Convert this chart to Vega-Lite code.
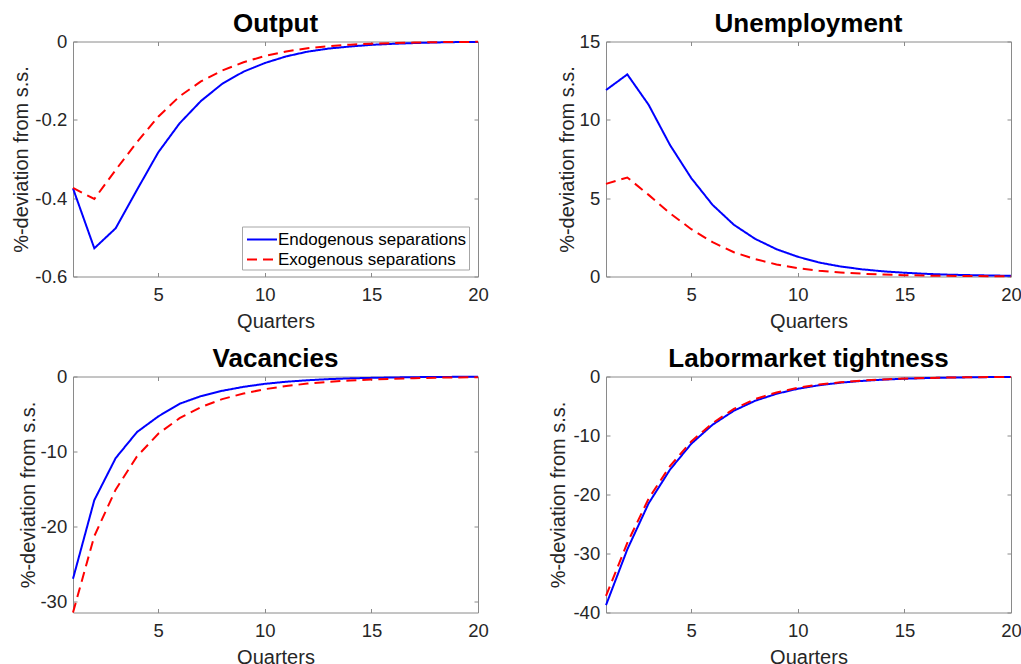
{
  "$schema": "https://vega.github.io/schema/vega-lite/v6.json",
  "background": "white",
  "padding": {"left": 11, "top": 9.5, "right": 0, "bottom": 0},
  "datasets": {
    "output": [
      {"q":1,"s":"Endogenous separations","v":-0.375},{"q":2,"s":"Endogenous separations","v":-0.528},{"q":3,"s":"Endogenous separations","v":-0.477},{"q":4,"s":"Endogenous separations","v":-0.379},{"q":5,"s":"Endogenous separations","v":-0.283},{"q":6,"s":"Endogenous separations","v":-0.209},{"q":7,"s":"Endogenous separations","v":-0.152},{"q":8,"s":"Endogenous separations","v":-0.108},{"q":9,"s":"Endogenous separations","v":-0.077},{"q":10,"s":"Endogenous separations","v":-0.055},{"q":11,"s":"Endogenous separations","v":-0.038},{"q":12,"s":"Endogenous separations","v":-0.026},{"q":13,"s":"Endogenous separations","v":-0.018},{"q":14,"s":"Endogenous separations","v":-0.0128},{"q":15,"s":"Endogenous separations","v":-0.0085},{"q":16,"s":"Endogenous separations","v":-0.006},{"q":17,"s":"Endogenous separations","v":-0.004},{"q":18,"s":"Endogenous separations","v":-0.0025},{"q":19,"s":"Endogenous separations","v":-0.0015},{"q":20,"s":"Endogenous separations","v":-0.001},
      {"q":1,"s":"Exogenous separations","v":-0.374},{"q":2,"s":"Exogenous separations","v":-0.402},{"q":3,"s":"Exogenous separations","v":-0.328},{"q":4,"s":"Exogenous separations","v":-0.257},{"q":5,"s":"Exogenous separations","v":-0.192},{"q":6,"s":"Exogenous separations","v":-0.14},{"q":7,"s":"Exogenous separations","v":-0.102},{"q":8,"s":"Exogenous separations","v":-0.074},{"q":9,"s":"Exogenous separations","v":-0.053},{"q":10,"s":"Exogenous separations","v":-0.037},{"q":11,"s":"Exogenous separations","v":-0.0255},{"q":12,"s":"Exogenous separations","v":-0.017},{"q":13,"s":"Exogenous separations","v":-0.012},{"q":14,"s":"Exogenous separations","v":-0.008},{"q":15,"s":"Exogenous separations","v":-0.0055},{"q":16,"s":"Exogenous separations","v":-0.004},{"q":17,"s":"Exogenous separations","v":-0.0027},{"q":18,"s":"Exogenous separations","v":-0.0018},{"q":19,"s":"Exogenous separations","v":-0.0012},{"q":20,"s":"Exogenous separations","v":-0.0008}
    ],
    "unemp": [
      {"q":1,"s":"Endogenous separations","v":11.9},{"q":2,"s":"Endogenous separations","v":12.9},{"q":3,"s":"Endogenous separations","v":10.96},{"q":4,"s":"Endogenous separations","v":8.4},{"q":5,"s":"Endogenous separations","v":6.28},{"q":6,"s":"Endogenous separations","v":4.57},{"q":7,"s":"Endogenous separations","v":3.3},{"q":8,"s":"Endogenous separations","v":2.4},{"q":9,"s":"Endogenous separations","v":1.74},{"q":10,"s":"Endogenous separations","v":1.26},{"q":11,"s":"Endogenous separations","v":0.89},{"q":12,"s":"Endogenous separations","v":0.64},{"q":13,"s":"Endogenous separations","v":0.46},{"q":14,"s":"Endogenous separations","v":0.33},{"q":15,"s":"Endogenous separations","v":0.24},{"q":16,"s":"Endogenous separations","v":0.17},{"q":17,"s":"Endogenous separations","v":0.12},{"q":18,"s":"Endogenous separations","v":0.09},{"q":19,"s":"Endogenous separations","v":0.065},{"q":20,"s":"Endogenous separations","v":0.047},
      {"q":1,"s":"Exogenous separations","v":5.91},{"q":2,"s":"Exogenous separations","v":6.32},{"q":3,"s":"Exogenous separations","v":5.21},{"q":4,"s":"Exogenous separations","v":4.04},{"q":5,"s":"Exogenous separations","v":3.02},{"q":6,"s":"Exogenous separations","v":2.19},{"q":7,"s":"Exogenous separations","v":1.55},{"q":8,"s":"Exogenous separations","v":1.11},{"q":9,"s":"Exogenous separations","v":0.77},{"q":10,"s":"Exogenous separations","v":0.53},{"q":11,"s":"Exogenous separations","v":0.37},{"q":12,"s":"Exogenous separations","v":0.26},{"q":13,"s":"Exogenous separations","v":0.18},{"q":14,"s":"Exogenous separations","v":0.12},{"q":15,"s":"Exogenous separations","v":0.085},{"q":16,"s":"Exogenous separations","v":0.06},{"q":17,"s":"Exogenous separations","v":0.04},{"q":18,"s":"Exogenous separations","v":0.03},{"q":19,"s":"Exogenous separations","v":0.02},{"q":20,"s":"Exogenous separations","v":0.014}
    ],
    "vac": [
      {"q":1,"s":"Endogenous separations","v":-27.0},{"q":2,"s":"Endogenous separations","v":-16.5},{"q":3,"s":"Endogenous separations","v":-10.9},{"q":4,"s":"Endogenous separations","v":-7.42},{"q":5,"s":"Endogenous separations","v":-5.33},{"q":6,"s":"Endogenous separations","v":-3.64},{"q":7,"s":"Endogenous separations","v":-2.62},{"q":8,"s":"Endogenous separations","v":-1.91},{"q":9,"s":"Endogenous separations","v":-1.38},{"q":10,"s":"Endogenous separations","v":-0.98},{"q":11,"s":"Endogenous separations","v":-0.7},{"q":12,"s":"Endogenous separations","v":-0.5},{"q":13,"s":"Endogenous separations","v":-0.35},{"q":14,"s":"Endogenous separations","v":-0.25},{"q":15,"s":"Endogenous separations","v":-0.18},{"q":16,"s":"Endogenous separations","v":-0.13},{"q":17,"s":"Endogenous separations","v":-0.09},{"q":18,"s":"Endogenous separations","v":-0.065},{"q":19,"s":"Endogenous separations","v":-0.046},{"q":20,"s":"Endogenous separations","v":-0.033},
      {"q":1,"s":"Exogenous separations","v":-31.5},{"q":2,"s":"Exogenous separations","v":-21.3},{"q":3,"s":"Exogenous separations","v":-15.1},{"q":4,"s":"Exogenous separations","v":-10.67},{"q":5,"s":"Exogenous separations","v":-7.64},{"q":6,"s":"Exogenous separations","v":-5.56},{"q":7,"s":"Exogenous separations","v":-4.09},{"q":8,"s":"Exogenous separations","v":-3.02},{"q":9,"s":"Exogenous separations","v":-2.27},{"q":10,"s":"Exogenous separations","v":-1.69},{"q":11,"s":"Exogenous separations","v":-1.27},{"q":12,"s":"Exogenous separations","v":-0.95},{"q":13,"s":"Exogenous separations","v":-0.71},{"q":14,"s":"Exogenous separations","v":-0.53},{"q":15,"s":"Exogenous separations","v":-0.4},{"q":16,"s":"Exogenous separations","v":-0.3},{"q":17,"s":"Exogenous separations","v":-0.22},{"q":18,"s":"Exogenous separations","v":-0.16},{"q":19,"s":"Exogenous separations","v":-0.12},{"q":20,"s":"Exogenous separations","v":-0.09}
    ],
    "tight": [
      {"q":1,"s":"Endogenous separations","v":-38.76},{"q":2,"s":"Endogenous separations","v":-29.3},{"q":3,"s":"Endogenous separations","v":-21.5},{"q":4,"s":"Endogenous separations","v":-15.8},{"q":5,"s":"Endogenous separations","v":-11.4},{"q":6,"s":"Endogenous separations","v":-8.17},{"q":7,"s":"Endogenous separations","v":-5.8},{"q":8,"s":"Endogenous separations","v":-4.11},{"q":9,"s":"Endogenous separations","v":-2.93},{"q":10,"s":"Endogenous separations","v":-2.08},{"q":11,"s":"Endogenous separations","v":-1.48},{"q":12,"s":"Endogenous separations","v":-1.05},{"q":13,"s":"Endogenous separations","v":-0.75},{"q":14,"s":"Endogenous separations","v":-0.53},{"q":15,"s":"Endogenous separations","v":-0.38},{"q":16,"s":"Endogenous separations","v":-0.27},{"q":17,"s":"Endogenous separations","v":-0.19},{"q":18,"s":"Endogenous separations","v":-0.14},{"q":19,"s":"Endogenous separations","v":-0.1},{"q":20,"s":"Endogenous separations","v":-0.07},
      {"q":1,"s":"Exogenous separations","v":-37.2},{"q":2,"s":"Exogenous separations","v":-28.2},{"q":3,"s":"Exogenous separations","v":-20.7},{"q":4,"s":"Exogenous separations","v":-15.2},{"q":5,"s":"Exogenous separations","v":-11.0},{"q":6,"s":"Exogenous separations","v":-7.9},{"q":7,"s":"Exogenous separations","v":-5.5},{"q":8,"s":"Exogenous separations","v":-3.83},{"q":9,"s":"Exogenous separations","v":-2.7},{"q":10,"s":"Exogenous separations","v":-1.92},{"q":11,"s":"Exogenous separations","v":-1.36},{"q":12,"s":"Exogenous separations","v":-0.97},{"q":13,"s":"Exogenous separations","v":-0.69},{"q":14,"s":"Exogenous separations","v":-0.49},{"q":15,"s":"Exogenous separations","v":-0.35},{"q":16,"s":"Exogenous separations","v":-0.25},{"q":17,"s":"Exogenous separations","v":-0.18},{"q":18,"s":"Exogenous separations","v":-0.13},{"q":19,"s":"Exogenous separations","v":-0.09},{"q":20,"s":"Exogenous separations","v":-0.065}
    ]
  },
  "columns": 2,
  "bounds": "flush",
  "spacing": {"row": 100, "column": 128},
  "resolve": {"scale": {"color": "independent", "strokeDash": "independent"}, "legend": {"color": "independent", "strokeDash": "independent"}},
  "concat": [
    {
      "data": {"name": "output"},
      "width": 405, "height": 235,
      "title": {"text": "Output"},
      "layer": [
        {
          "mark": {"type": "line", "strokeWidth": 2},
          "encoding": {
            "x": {"field": "q", "type": "quantitative", "scale": {"domain": [1, 20], "nice": false, "zero": false}, "axis": {"title": "Quarters", "values": [5, 10, 15, 20]}},
            "y": {"field": "v", "type": "quantitative", "scale": {"domain": [-0.6, 0], "nice": false, "zero": false}, "axis": {"title": "%-deviation from s.s.", "values": [-0.6, -0.4, -0.2, 0], "labelExpr": "datum.value == 0 ? '0' : replace(datum.label, '−', '-')", "minExtent": 41.4, "maxExtent": 41.4}},
            "color": {"field": "s", "type": "nominal", "scale": {"domain": ["Endogenous separations", "Exogenous separations"], "range": ["#0000ff", "#ff0000"]}, "legend": {"title": null, "orient": "none", "legendX": 169, "legendY": 185, "fillColor": "white", "strokeColor": "#a6a6a6", "padding": 2, "rowPadding": 1, "labelFontSize": 17, "labelColor": "#000000", "labelOffset": 5, "labelLimit": 400, "labelExpr": "datum.label + '  '", "symbolType": "M-1.5,0H1.5", "symbolSize": 400, "symbolOffset": 7, "symbolStrokeWidth": 2, "cornerRadius": 0}},
            "strokeDash": {"field": "s", "type": "nominal", "scale": {"domain": ["Endogenous separations", "Exogenous separations"], "range": [[1, 0], [10, 6]]}, "legend": {"title": null, "orient": "none", "legendX": 169, "legendY": 185, "fillColor": "white", "strokeColor": "#a6a6a6", "padding": 2, "rowPadding": 1, "labelFontSize": 17, "labelColor": "#000000", "labelOffset": 5, "labelLimit": 400, "labelExpr": "datum.label + '  '", "symbolType": "M-1.5,0H1.5", "symbolSize": 400, "symbolOffset": 7, "symbolStrokeWidth": 2, "cornerRadius": 0}}
          }
        },
        {
          "mark": {"type": "line", "opacity": 0},
          "encoding": {
            "x": {"field": "q", "type": "quantitative", "scale": {"domain": [1, 20], "nice": false, "zero": false}, "axis": {"orient": "top", "labels": false, "title": null, "values": [5, 10, 15, 20], "minExtent": 0, "maxExtent": 0}},
            "y": {"field": "v", "type": "quantitative", "scale": {"domain": [-0.6, 0], "nice": false, "zero": false}, "axis": {"orient": "right", "labels": false, "title": null, "values": [-0.6, -0.4, -0.2, 0], "minExtent": 0, "maxExtent": 0}}
          }
        }
      ],
      "resolve": {"axis": {"x": "independent", "y": "independent"}}
    },
    {
      "data": {"name": "unemp"},
      "width": 405, "height": 235,
      "title": {"text": "Unemployment"},
      "layer": [
        {
          "mark": {"type": "line", "strokeWidth": 2},
          "encoding": {
            "x": {"field": "q", "type": "quantitative", "scale": {"domain": [1, 20], "nice": false, "zero": false}, "axis": {"title": "Quarters", "values": [5, 10, 15, 20]}},
            "y": {"field": "v", "type": "quantitative", "scale": {"domain": [0, 15], "nice": false, "zero": false}, "axis": {"title": "%-deviation from s.s.", "values": [0, 5, 10, 15], "minExtent": 28.4, "maxExtent": 28.4}},
            "color": {"field": "s", "type": "nominal", "scale": {"domain": ["Endogenous separations", "Exogenous separations"], "range": ["#0000ff", "#ff0000"]}, "legend": null},
            "strokeDash": {"field": "s", "type": "nominal", "scale": {"domain": ["Endogenous separations", "Exogenous separations"], "range": [[1, 0], [10, 6]]}, "legend": null}
          }
        },
        {
          "mark": {"type": "line", "opacity": 0},
          "encoding": {
            "x": {"field": "q", "type": "quantitative", "scale": {"domain": [1, 20], "nice": false, "zero": false}, "axis": {"orient": "top", "labels": false, "title": null, "values": [5, 10, 15, 20], "minExtent": 0, "maxExtent": 0}},
            "y": {"field": "v", "type": "quantitative", "scale": {"domain": [0, 15], "nice": false, "zero": false}, "axis": {"orient": "right", "labels": false, "title": null, "values": [0, 5, 10, 15], "minExtent": 0, "maxExtent": 0}}
          }
        }
      ],
      "resolve": {"axis": {"x": "independent", "y": "independent"}}
    },
    {
      "data": {"name": "vac"},
      "width": 405, "height": 236,
      "title": {"text": "Vacancies"},
      "layer": [
        {
          "mark": {"type": "line", "strokeWidth": 2},
          "encoding": {
            "x": {"field": "q", "type": "quantitative", "scale": {"domain": [1, 20], "nice": false, "zero": false}, "axis": {"title": "Quarters", "values": [5, 10, 15, 20]}},
            "y": {"field": "v", "type": "quantitative", "scale": {"domain": [-31.5, 0], "nice": false, "zero": false}, "axis": {"title": "%-deviation from s.s.", "values": [-30, -20, -10, 0], "labelExpr": "replace(datum.label, '−', '-')", "minExtent": 34.8, "maxExtent": 34.8}},
            "color": {"field": "s", "type": "nominal", "scale": {"domain": ["Endogenous separations", "Exogenous separations"], "range": ["#0000ff", "#ff0000"]}, "legend": null},
            "strokeDash": {"field": "s", "type": "nominal", "scale": {"domain": ["Endogenous separations", "Exogenous separations"], "range": [[1, 0], [10, 6]]}, "legend": null}
          }
        },
        {
          "mark": {"type": "line", "opacity": 0},
          "encoding": {
            "x": {"field": "q", "type": "quantitative", "scale": {"domain": [1, 20], "nice": false, "zero": false}, "axis": {"orient": "top", "labels": false, "title": null, "values": [5, 10, 15, 20], "minExtent": 0, "maxExtent": 0}},
            "y": {"field": "v", "type": "quantitative", "scale": {"domain": [-31.5, 0], "nice": false, "zero": false}, "axis": {"orient": "right", "labels": false, "title": null, "values": [-30, -20, -10, 0], "minExtent": 0, "maxExtent": 0}}
          }
        }
      ],
      "resolve": {"axis": {"x": "independent", "y": "independent"}}
    },
    {
      "data": {"name": "tight"},
      "width": 405, "height": 236,
      "title": {"text": "Labormarket tightness"},
      "layer": [
        {
          "mark": {"type": "line", "strokeWidth": 2},
          "encoding": {
            "x": {"field": "q", "type": "quantitative", "scale": {"domain": [1, 20], "nice": false, "zero": false}, "axis": {"title": "Quarters", "values": [5, 10, 15, 20]}},
            "y": {"field": "v", "type": "quantitative", "scale": {"domain": [-40, 0], "nice": false, "zero": false}, "axis": {"title": "%-deviation from s.s.", "values": [-40, -30, -20, -10, 0], "labelExpr": "replace(datum.label, '−', '-')", "minExtent": 37.1, "maxExtent": 37.1}},
            "color": {"field": "s", "type": "nominal", "scale": {"domain": ["Endogenous separations", "Exogenous separations"], "range": ["#0000ff", "#ff0000"]}, "legend": null},
            "strokeDash": {"field": "s", "type": "nominal", "scale": {"domain": ["Endogenous separations", "Exogenous separations"], "range": [[1, 0], [10, 6]]}, "legend": null}
          }
        },
        {
          "mark": {"type": "line", "opacity": 0},
          "encoding": {
            "x": {"field": "q", "type": "quantitative", "scale": {"domain": [1, 20], "nice": false, "zero": false}, "axis": {"orient": "top", "labels": false, "title": null, "values": [5, 10, 15, 20], "minExtent": 0, "maxExtent": 0}},
            "y": {"field": "v", "type": "quantitative", "scale": {"domain": [-40, 0], "nice": false, "zero": false}, "axis": {"orient": "right", "labels": false, "title": null, "values": [-40, -30, -20, -10, 0], "minExtent": 0, "maxExtent": 0}}
          }
        }
      ],
      "resolve": {"axis": {"x": "independent", "y": "independent"}}
    }
  ],
  "config": {
    "font": "Liberation Sans",
    "view": {"stroke": "#8a8a8a", "strokeWidth": 1},
    "axis": {"domain": false, "grid": false, "tickSize": -4, "tickColor": "#8a8a8a", "tickWidth": 1, "labelFont": "Liberation Sans", "labelFontSize": 18.5, "labelColor": "#262626", "titleFont": "Liberation Sans", "titleFontSize": 20, "titleFontWeight": "normal", "titleColor": "#262626", "labelFlush": false, "labelOverlap": false, "titlePadding": 0},
    "axisX": {"labelPadding": 13.3, "minExtent": 34.5, "maxExtent": 34.5},
    "axisY": {"labelPadding": 10.3},
    "legend": {"labelFont": "Liberation Sans"},
    "title": {"font": "Liberation Sans", "fontSize": 26, "fontWeight": "bold", "color": "#000000", "offset": -4, "frame": "group", "anchor": "middle"}
  }
}
